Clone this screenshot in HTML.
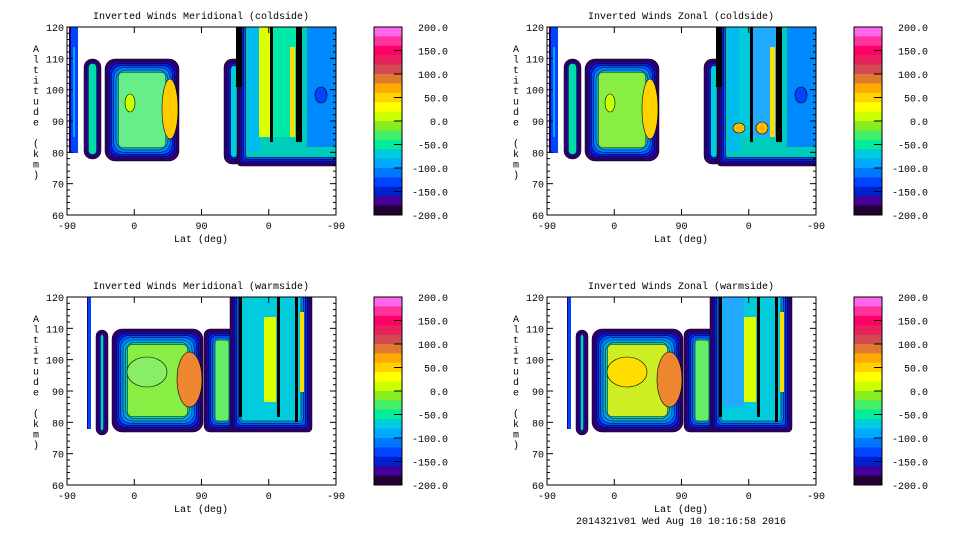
<!DOCTYPE html><html><head><style>body{margin:0;background:#fff}svg{display:block}text{font-family:"Liberation Mono","DejaVu Sans Mono",monospace;font-size:10px;fill:#000}</style></head><body>
<svg id="s" width="960" height="540" xmlns="http://www.w3.org/2000/svg"></svg>
<script>
const S=document.getElementById('s');let h='';
const lay=['#330066','#2a00aa','#0022dd','#0055ff','#0088ff','#00aaee','#00ccbb'];
function region(x,y,w,h2,n,inner,r){let o='';for(let i=0;i<n;i++){const d=i*2.2;o+=`<rect x="${x+d}" y="${y+d}" width="${Math.max(1,w-2*d)}" height="${Math.max(1,h2-2*d)}" rx="${r}" fill="${lay[i]}" stroke="#000" stroke-width="0.5"/>`;}o+=`<rect x="${x+n*2.2}" y="${y+n*2.2}" width="${Math.max(1,w-4.4*n)}" height="${Math.max(1,h2-4.4*n)}" rx="${r/2}" fill="${inner}" stroke="#000" stroke-width="0.5"/>`;return o;}
function blob(x,y,w,hh,c){return `<ellipse cx="${x+w/2}" cy="${y+hh/2}" rx="${w/2}" ry="${hh/2}" fill="${c}" stroke="#000" stroke-width="0.6"/>`;}
function bar(x,y,w,hh,c){return `<rect x="${x}" y="${y}" width="${w}" height="${hh}" fill="${c}"/>`;}
const cb=['#ff66ee','#ff3399','#ff0066','#e8205c','#d04a50','#e07a30','#ffaa00','#ffd200','#ffff00','#ccff00','#88ee22','#44ee66','#00ee99','#00ccdd','#00aaff','#0077ff','#0044ff','#0022cc','#440099','#220033'];
let cid=0;
function panel(ox,oy,title,kind,side){
 const L=ox,T=oy,W=269,H=188;cid++;
 let o=`<defs><clipPath id="c${cid}"><rect x="${L}" y="${T}" width="${W}" height="${H}"/></clipPath></defs>`;
 o+=`<text x="${L+134}" y="${T-8}" text-anchor="middle">${title}</text><g clip-path="url(#c${cid})">`;
 if(side==0){
  o+=bar(L+3,T,8,126,'#0044ff')+bar(L+2,T,2,126,'#220066')+bar(L+6,T+20,2,90,'#00aaff');
  o+=region(L+17,T+32,17,100,2,'#00ddaa',8);
  o+=region(L+38,T+32,74,102,6,kind?'#88ee44':'#66ee88',10);
  o+=blob(L+95,T+52,16,60,kind?'#ffd200':'#ffcc00');
  o+=blob(L+58,T+67,10,18,'#ccff00');
  o+=region(L+157,T+32,20,105,3,'#00ccdd',8);
  o+=region(L+170,T-20,110,159,4,'#00ccbb',4);
  o+=bar(L+169,T,6,60,'#000')+bar(L+181,T,12,125,'#00bbee');
  o+=bar(L+192,T,11,110,kind?'#00ccdd':'#ddff00')+bar(L+203,T,3,115,'#000');
  o+=bar(L+206,T,23,110,kind?'#22aaff':'#00e8aa')+bar(L+240,T,29,120,'#0088ff');
  o+=bar(L+229,T,6,115,'#000')+bar(L+223,T+20,5,90,'#ffdd00');
  o+=blob(L+248,T+60,12,16,'#0044ff');
  if(kind){o+=blob(L+209,T+95,12,12,'#ffbb00')+blob(L+186,T+96,12,10,'#ffbb00');}
 }else{
  o+=bar(L+21,T,3,132,'#0044ff')+bar(L+20,T,1,132,'#220066');
  o+=region(L+29,T+33,12,105,2,'#00ccdd',6);
  o+=region(L+45,T+32,91,103,7,kind?'#ccee22':'#88ee44',10);
  o+=blob(L+110,T+55,25,55,'#ee8830');
  o+=blob(L+60,T+60,40,30,kind?'#ffdd00':'#88ee66');
  o+=region(L+137,T+32,36,103,5,'#66ee66',6);
  o+=region(L+163,T-20,82,155,5,'#00ccdd',4);
  o+=bar(L+175,T,22,110,kind?'#22aaff':'#00ccdd')+bar(L+197,T+20,12,85,'#ddff00');
  o+=bar(L+210,T,3,120,'#000')+bar(L+228,T,3,125,'#000')+bar(L+233,T+15,4,80,'#ffdd00');
  o+=bar(L+172,T,3,120,'#000');
 }
 o+=`</g><rect x="${L}" y="${T}" width="${W}" height="${H}" fill="none" stroke="#000" stroke-width="1"/>`;
 for(let i=0;i<=60;i+=2){const y=T+H-i*H/60;const big=i%10==0;o+=`<line x1="${L}" x2="${L+(big?6:3)}" y1="${y}" y2="${y}" stroke="#000"/><line x1="${L+W}" x2="${L+W-(big?6:3)}" y1="${y}" y2="${y}" stroke="#000"/>`;if(big)o+=`<text x="${L-3}" y="${y+4}" text-anchor="end">${60+i}</text>`;}
 const xl=['-90','0','90','0','-90'];
 for(let i=0;i<5;i++){const x=L+i*W/4;o+=`<line x1="${x}" x2="${x}" y1="${T}" y2="${T+6}" stroke="#000"/><line x1="${x}" x2="${x}" y1="${T+H}" y2="${T+H-6}" stroke="#000"/><text x="${x}" y="${T+H+14}" text-anchor="middle">${xl[i]}</text>`;}
 o+=`<text x="${L+134}" y="${T+H+27}" text-anchor="middle">Lat (deg)</text>`;
 const yl='Altitude (km)'.split('');yl.forEach((c,i)=>{o+=`<text x="${L-31}" y="${T+25+i*10.5}" text-anchor="middle">${c}</text>`});
 const cx=L+307;cb.forEach((c,i)=>{o+=bar(cx,T+i*H/20,28,H/20+0.5,c)});
 o+=`<rect x="${cx}" y="${T}" width="28" height="${H}" fill="none" stroke="#000"/>`;
 const lab=['200.0','150.0','100.0','50.0','0.0','-50.0','-100.0','-150.0','-200.0'];
 lab.forEach((t,i)=>{const y=T+i*H/8;o+=`<line x1="${cx+20}" x2="${cx+28}" y1="${y}" y2="${y}" stroke="#000"/><text x="${cx+74}" y="${y+4}" text-anchor="end">${t}</text>`});
 return o;}
h+=panel(67,27,'Inverted Winds Meridional (coldside)',0,0);
h+=panel(547,27,'Inverted Winds Zonal (coldside)',1,0);
h+=panel(67,297,'Inverted Winds Meridional (warmside)',0,1);
h+=panel(547,297,'Inverted Winds Zonal (warmside)',1,1);
h+=`<text x="681" y="524" text-anchor="middle">2014321v01 Wed Aug 10 10:16:58 2016</text>`;
S.innerHTML=h;
</script></body></html>
